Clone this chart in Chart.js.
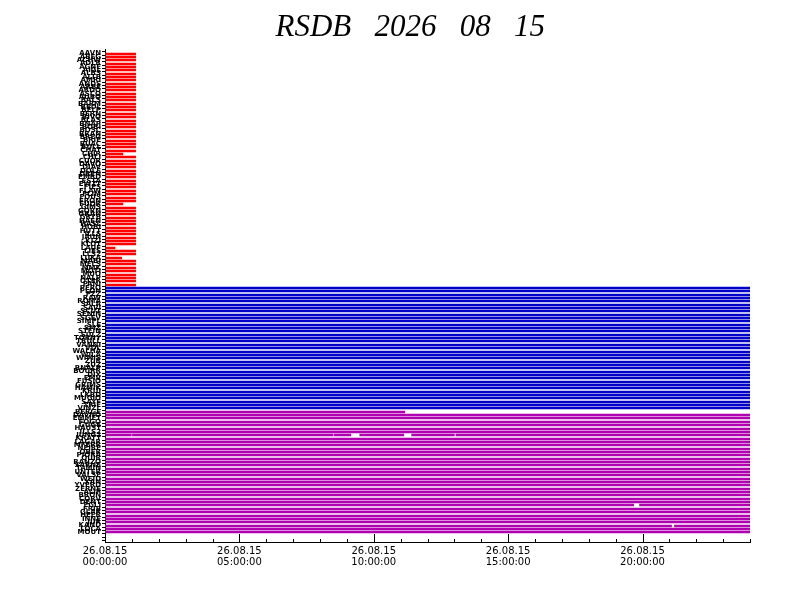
<!DOCTYPE html>
<html>
<head>
<meta charset="utf-8">
<script src="https://cdn.jsdelivr.net/npm/chart.js@4/dist/chart.umd.min.js"></script>
<style>
  html, body { margin: 0; padding: 0; background: #fff; }
</style>
</head>
<body>
<canvas id="myChart" width="792" height="612"></canvas>
<script>
// station codes, top to bottom (red group, blue group, magenta group)
const redStations = [
  'AAVN','ABEG','ACHW','ADLR','AGNE','AIGL','ALBS','ALTB','AMRI','ANDS',
  'ARBE','ARDO','ASCO','AUBO','BALS','BARM','BEDL','BELP','BERN','BIVO',
  'BLAS','BNAP','BOBI','BOSC','BRAN','BREG','BRIE','BUAC','BULL','CHAT',
  'CHIR','CHLI','CUOR','DAVO','DIAV','DOLE','DREN','EMBD','ESTA','EWZT',
  'FIES','FLAW','FLIM','FOUS','FRON','FUOR','GIMS','GORN','GRAN','GRYB',
  'HAEN','HASL','HOBI','HUTT','ILLS','JAUN','KIZI','KLOT','LAUF','LIES',
  'LLS2','LUKA','MABI','MELS','MMK','MOTI','MUO','NALP','OTER','PANI'
];
const blueStations = [
  'PERO','PLON','PZZ','RAW','ROMA','SALA','SAVI','SCUT','SENIN','SGEV',
  'SIMPL','SLE','SMZ','STEIN','SULZ','TORNY','TRULL','VANNI','VDL','WALHA',
  'WILA','WIMIS','ZUR','ZUZ','BNALP','BOURR','DIX','EMV','FUSIO','GRIMS',
  'HAMIK','KRUI','LKBD','MUGIO','SAYF','TRIE','VINZL'
];
const magentaStations = [
  'BERGE','DAVNO','EMMET','FOGO','GUGE','HAUST','ILLS2','JUNG2','KRATT','LAGAR',
  'MFERR','NEIRE','OBER','PIORA','QUIR','RANZO','SARNE','TAMIN','UNTER','VALSE',
  'WEID','XAN','YVERD','ZERNE','ALIP','BRON','CORV','DENT','EGLI','FRIB',
  'GLAR','HEER','INNE','JUR','KAND','LOCA','MOUT'
];

// data coverage in hours of the day (0 - 24)
const redEnds = [
  1.14,1.14,1.14,1.14,1.14,1.14,1.14,1.14,1.14,1.14,
  1.14,1.14,1.14,1.14,1.14,1.14,1.14,1.14,1.14,1.14,
  1.14,1.14,1.14,1.14,1.14,1.14,1.14,1.14,1.14,1.14,
  0.66,1.14,1.14,1.14,1.14,1.14,1.14,1.14,1.14,1.14,
  1.14,1.14,1.14,1.14,1.14,0.66,1.14,1.14,1.14,1.14,
  1.14,1.14,1.14,1.14,1.14,1.14,1.14,1.14,0.37,1.14,
  1.14,0.62,1.14,1.14,1.14,1.14,1.14,1.14,1.14,1.14
];
const blueEnds = [
  24,24,24,24,24,24,24,24,24,24,
  24,24,24,24,24,24,24,24,24,24,
  24,24,24,24,24,24,24,24,24,24,
  24,24,24,24,24,24,24
];
const magentaSegs = [
  [[0,11.15]],
  [[0,24]],[[0,24]],[[0,24]],[[0,24]],[[0,24]],[[0,24]],
  [[0,0.98],[1.02,8.48],[8.52,9.14],[9.48,11.12],[11.41,13.0],[13.06,24]],
  [[0,24]],[[0,24]],[[0,24]],[[0,24]],[[0,24]],[[0,24]],[[0,24]],[[0,24]],
  [[0,24]],[[0,24]],[[0,24]],[[0,24]],[[0,24]],[[0,24]],[[0,24]],[[0,24]],
  [[0,24]],[[0,24]],[[0,24]],[[0,24]],
  [[0,19.67],[19.89,24]],
  [[0,24]],[[0,24]],[[0,24]],[[0,24]],[[0,24]],
  [[0,21.08],[21.19,24]],
  [[0,24]],[[0,24]]
];

const tickDate = '26.08.15';
const tickHours = [0, 5, 10, 15, 20];

const RED = '#ff0000', BLUE = '#0000c8', MAGENTA = '#b000b0';

// one row per station
let rows = [];
redStations.forEach((s, i) => rows.push({ name: s, color: RED, segs: [[0, redEnds[i]]] }));
blueStations.forEach((s, i) => rows.push({ name: s, color: BLUE, segs: [[0, blueEnds[i]]] }));
magentaStations.forEach((s, i) => rows.push({ name: s, color: MAGENTA, segs: magentaSegs[i] }));
const labels = rows.map(r => r.name);

let maxSegs = 0;
rows.forEach(r => { maxSegs = Math.max(maxSegs, r.segs.length); });
let datasets = [];
for (let k = 0; k < maxSegs; k++) {
  let data = [];
  rows.forEach((r, i) => {
    if (r.segs[k]) data.push({ x: r.segs[k], y: i, c: r.color });
  });
  datasets.push({
    data: data,
    backgroundColor: c => c.raw ? c.raw.c : '#000',
    borderWidth: 0,
    barThickness: 2,
    grouped: false
  });
}

// keep the thin bars on whole pixels so the stripes stay crisp
const snapBars = {
  id: 'snapBars',
  beforeDatasetsDraw(chart) {
    chart.data.datasets.forEach((ds, i) => {
      chart.getDatasetMeta(i).data.forEach(el => { el.y = Math.round(el.y); });
    });
  }
};

// small upward ticks on the time axis, longer every 5 hours
const hourTicks = {
  id: 'hourTicks',
  afterDraw(chart) {
    const sx = chart.scales.x, c = chart.ctx, b = chart.chartArea.bottom;
    c.save();
    c.strokeStyle = '#000';
    c.lineWidth = 1;
    sx.ticks.forEach(t => {
      const px = Math.round(sx.getPixelForValue(t.value)) + 0.5;
      const len = t.value % 5 === 0 ? 8 : 3;
      c.beginPath();
      c.moveTo(px, b);
      c.lineTo(px, b - len);
      c.stroke();
    });
    c.restore();
  }
};

const pad2 = n => (n < 10 ? '0' : '') + n;

new Chart(document.getElementById('myChart'), {
  type: 'bar',
  data: { labels: labels, datasets: datasets },
  plugins: [snapBars, hourTicks],
  options: {
    responsive: false,
    animation: false,
    indexAxis: 'y',
    layout: { padding: { left: 24, right: 42, top: 0, bottom: 0 } },
    plugins: {
      legend: { display: false },
      tooltip: { enabled: false },
      title: {
        display: true,
        text: '      RSDB   2026   08   15',
        color: '#000',
        font: { family: 'Liberation Serif', style: 'italic', weight: 'normal', size: 31 },
        padding: { top: 9, bottom: 3 }
      }
    },
    scales: {
      x: {
        type: 'linear',
        min: 0,
        max: 24,
        afterFit: s => { s.height = 70; },
        border: { color: '#000', width: 1 },
        grid: { drawOnChartArea: false, drawTicks: false },
        ticks: {
          stepSize: 1,
          autoSkip: false,
          maxRotation: 0,
          padding: 4,
          color: '#000',
          font: { family: 'DejaVu Sans', size: 10, lineHeight: 1.1 },
          callback: v => tickHours.includes(v) ? [tickDate, pad2(v) + ':00:00'] : ''
        }
      },
      y: {
        type: 'linear',
        reverse: true,
        min: -0.8,
        max: labels.length - 1 + 2.4,
        afterFit: s => { s.width = 81; },
        border: { color: '#000', width: 1 },
        grid: { drawOnChartArea: false, color: '#000', tickLength: 3 },
        ticks: {
          stepSize: 1,
          autoSkip: false,
          includeBounds: false,
          padding: 1,
          color: '#000',
          font: { family: 'DejaVu Sans', size: 7, weight: 'bold' },
          callback: v => Number.isInteger(v) && labels[v] ? labels[v] : ''
        }
      }
    }
  }
});
</script>
</body>
</html>
